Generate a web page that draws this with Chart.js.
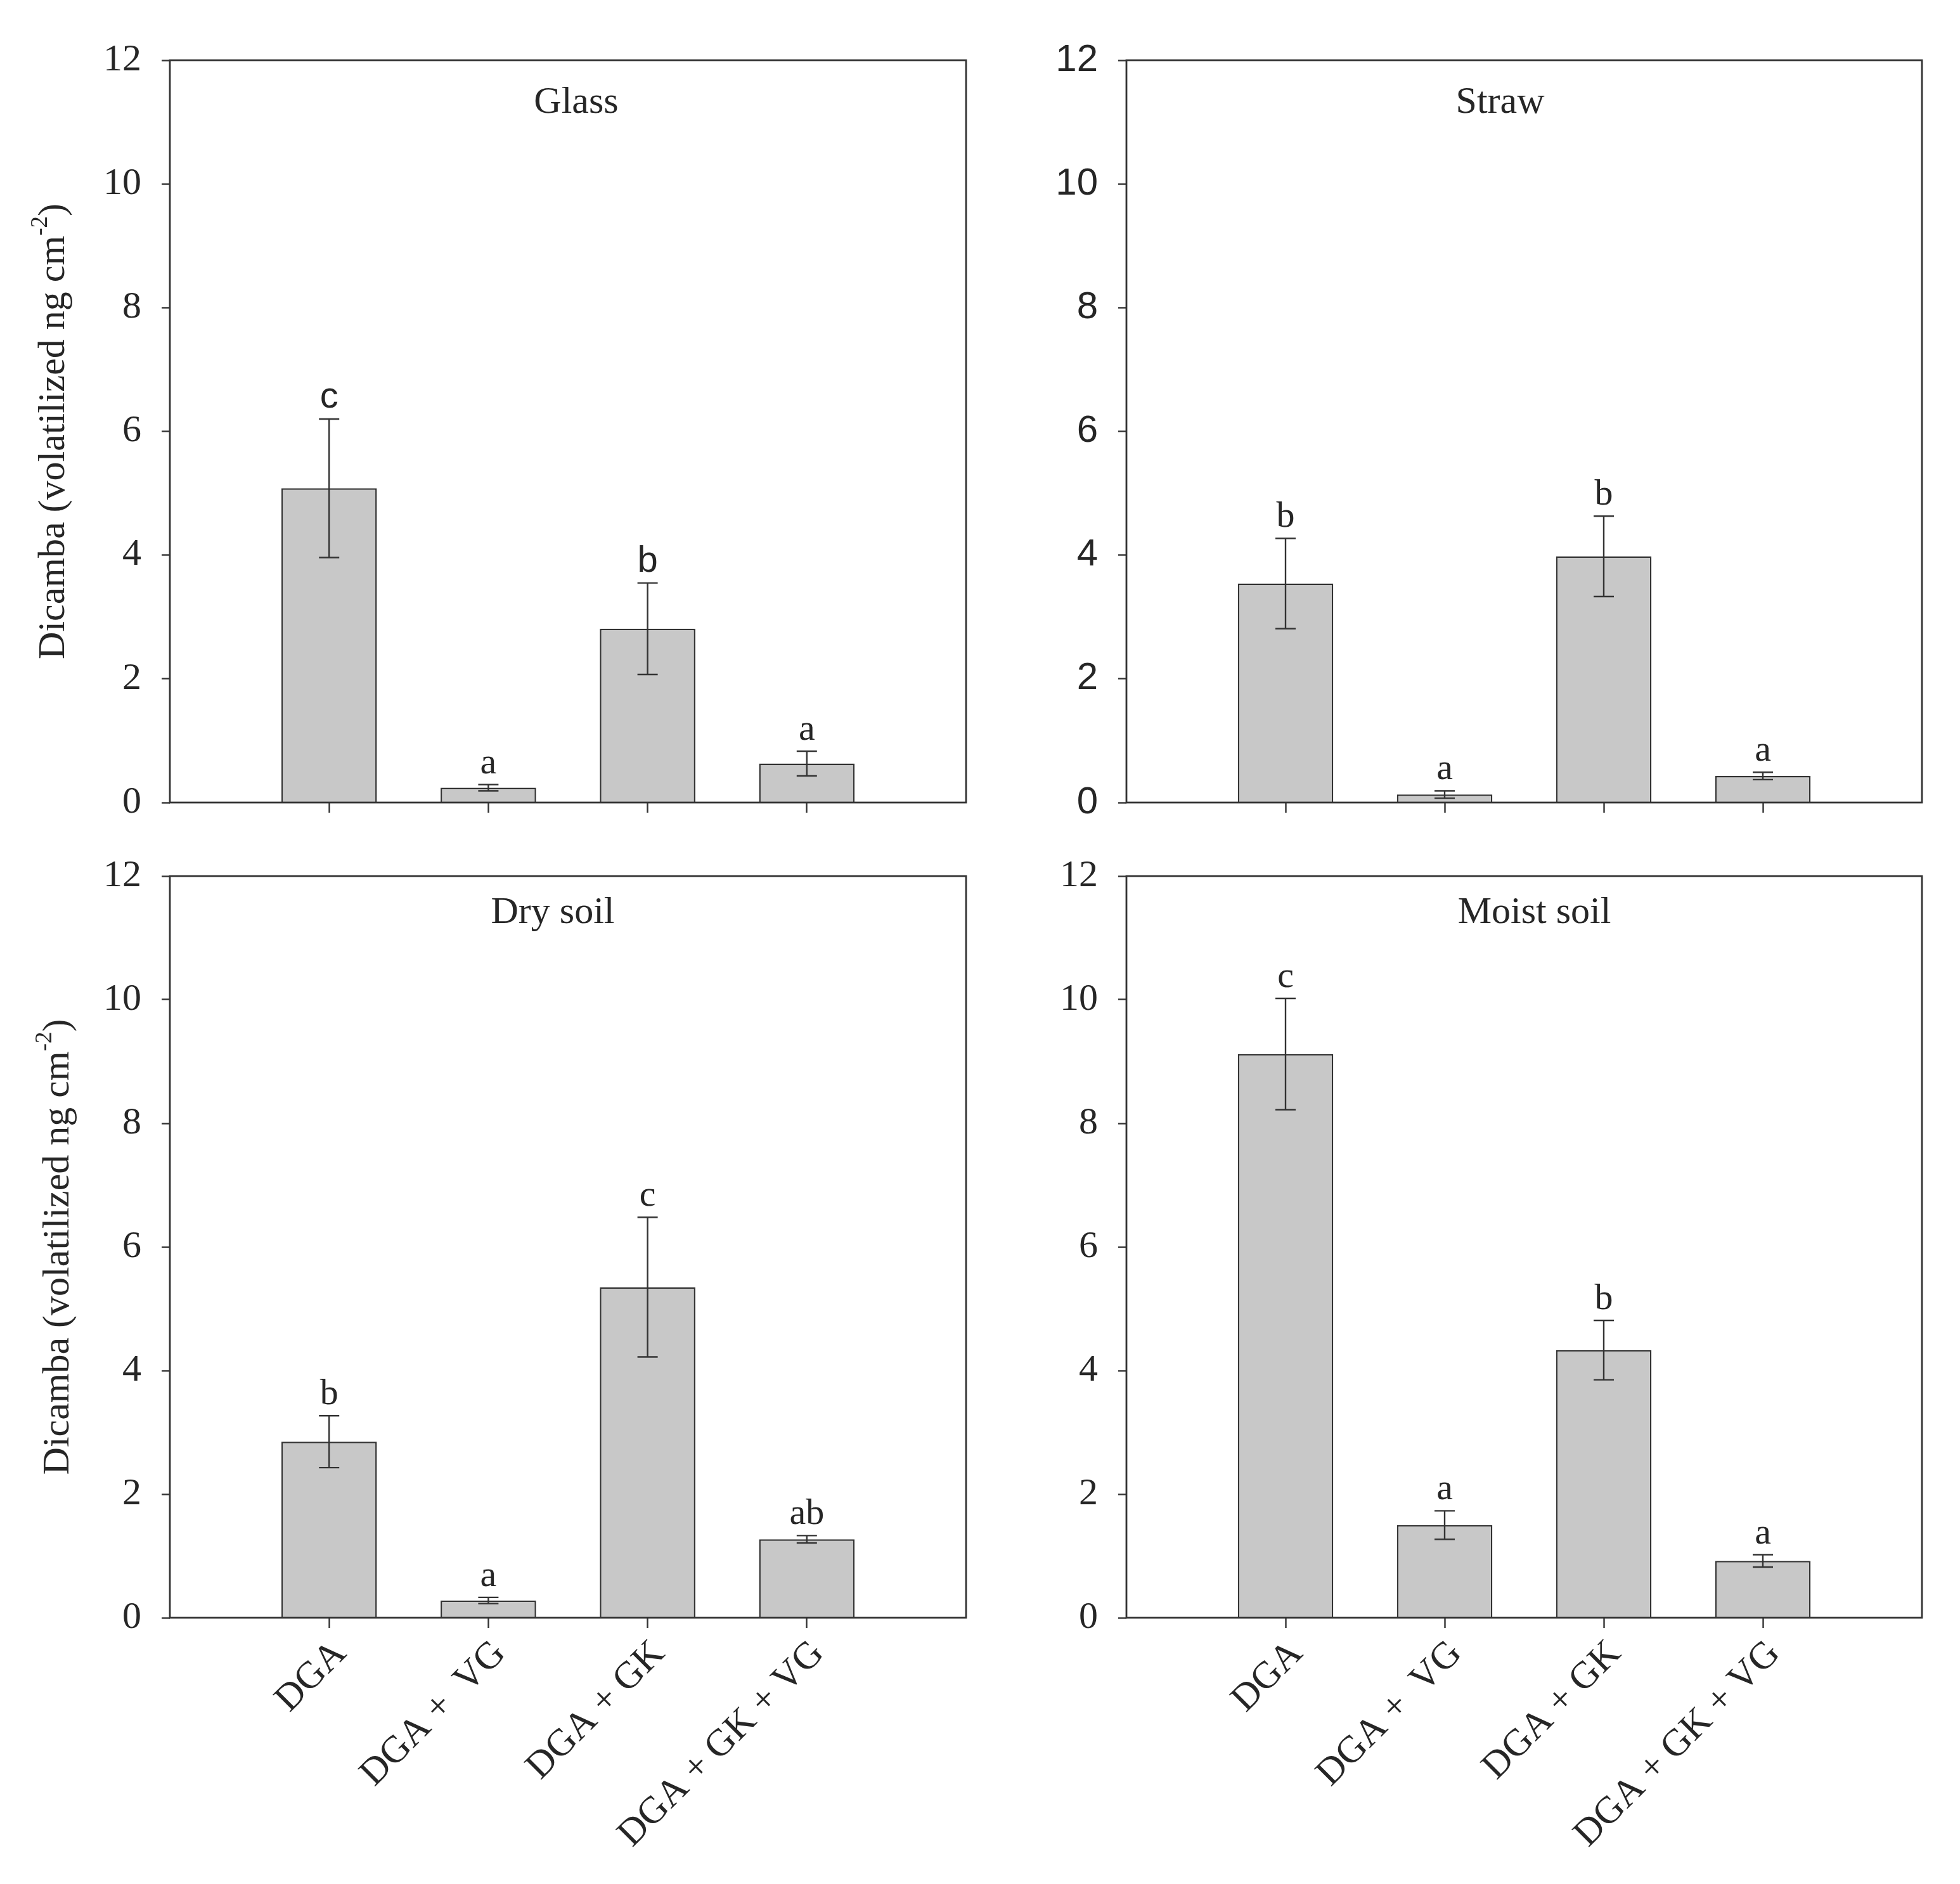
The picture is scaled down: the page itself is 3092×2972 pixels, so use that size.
<!DOCTYPE html>
<html>
<head>
<meta charset="utf-8">
<script src="https://cdn.jsdelivr.net/npm/chart.js@4.4.0/dist/chart.umd.min.js"></script>
<style>
  html, body { margin: 0; padding: 0; background: #fff; }
  body { width: 3092px; height: 2972px; position: relative; overflow: hidden; }
  .panel { position: absolute; }
</style>
</head>
<body>
<div class="panel" id="p0"><canvas id="c0"></canvas></div>
<div class="panel" id="p1"><canvas id="c1"></canvas></div>
<div class="panel" id="p2"><canvas id="c2"></canvas></div>
<div class="panel" id="p3"><canvas id="c3"></canvas></div>
<script>
// treatments and surfaces
const categories = ['DGA', 'DGA +  VG', 'DGA + GK', 'DGA + GK + VG'];
const surfaces = ['Glass', 'Straw', 'Dry soil', 'Moist soil'];
const yTicks = [0, 2, 4, 6, 8, 10, 12];

// means, standard errors, letters
const glassMeans = [5.08, 0.24, 2.81, 0.63];
const glassErrors = [1.12, 0.05, 0.74, 0.20];
const glassLetters = ['c', 'a', 'b', 'a'];

const strawMeans = [3.54, 0.13, 3.98, 0.43];
const strawErrors = [0.73, 0.06, 0.65, 0.06];
const strawLetters = ['b', 'a', 'b', 'a'];

const drySoilMeans = [2.85, 0.28, 5.35, 1.27];
const drySoilErrors = [0.42, 0.05, 1.13, 0.06];
const drySoilLetters = ['b', 'a', 'c', 'ab'];

const moistSoilMeans = [9.12, 1.50, 4.33, 0.92];
const moistSoilErrors = [0.90, 0.23, 0.48, 0.10];
const moistSoilLetters = ['c', 'a', 'b', 'a'];

const means = [glassMeans, strawMeans, drySoilMeans, moistSoilMeans];
const errors = [glassErrors, strawErrors, drySoilErrors, moistSoilErrors];
const letters = [glassLetters, strawLetters, drySoilLetters, moistSoilLetters];

const SERIF = '"Liberation Serif", "Times New Roman", serif';
const SANS = '"Liberation Sans", Arial, sans-serif';
const INK = '#262626';
const LINE = '#333333';

// panel placement on the page
const layouts = [
  { left: 0,    top: 0,    w: 1546, h: 1324, yW: 268, padTop: 95, padRight: 22, xH: 58,  showX: false, tickFont: SERIF, yTitleX: 85, titleDx: 13,  titleBase: 83,
    letterFonts: [SANS, SERIF, SANS, SERIF] },
  { left: 1546, top: 0,    w: 1546, h: 1324, yW: 231, padTop: 95, padRight: 60, xH: 58,  showX: false, tickFont: SANS,  yTitleX: null, titleDx: -38, titleBase: 83,
    letterFonts: [SERIF, SERIF, SERIF, SERIF] },
  { left: 0,    top: 1324, w: 1546, h: 1648, yW: 268, padTop: 58, padRight: 22, xH: 420, showX: true,  tickFont: SERIF, yTitleX: 92, titleDx: -24, titleBase: 74,
    letterFonts: [SERIF, SERIF, SERIF, SERIF] },
  { left: 1546, top: 1324, w: 1546, h: 1648, yW: 231, padTop: 58, padRight: 60, xH: 420, showX: true,  tickFont: SERIF, yTitleX: null, titleDx: 16, titleBase: 74,
    letterFonts: [SERIF, SERIF, SERIF, SERIF] }
];

// error bars, significance letters, frame, panel title and y title
const decorPlugin = {
  id: 'decor',
  afterDatasetsDraw(chart, args, opts) {
    const ctx = chart.ctx;
    const xs = chart.scales.x, ys = chart.scales.y;
    const lay = opts.lay;
    ctx.save();
    ctx.strokeStyle = LINE;
    ctx.lineWidth = 2.4;
    opts.means.forEach((m, i) => {
      const x = xs.getPixelForValue(i + 1);
      const yT = ys.getPixelForValue(m + opts.errors[i]);
      const yB = ys.getPixelForValue(m - opts.errors[i]);
      ctx.beginPath();
      ctx.moveTo(x, yT); ctx.lineTo(x, yB);
      ctx.moveTo(x - 16, yT); ctx.lineTo(x + 16, yT);
      ctx.moveTo(x - 16, yB); ctx.lineTo(x + 16, yB);
      ctx.stroke();
      ctx.fillStyle = INK;
      ctx.font = '58px ' + lay.letterFonts[i];
      ctx.textAlign = 'center';
      ctx.textBaseline = 'alphabetic';
      ctx.fillText(opts.letters[i], x, yT - 18);
    });
    ctx.restore();
  },
  afterDraw(chart, args, opts) {
    const ctx = chart.ctx;
    const a = chart.chartArea;
    const lay = opts.lay;
    ctx.save();
    ctx.strokeStyle = LINE;
    ctx.lineWidth = 2.8;
    ctx.strokeRect(a.left, a.top, a.right - a.left, a.bottom - a.top);
    ctx.fillStyle = INK;
    ctx.font = '60px ' + SERIF;
    ctx.textAlign = 'center';
    ctx.textBaseline = 'alphabetic';
    ctx.fillText(opts.title, (a.left + a.right) / 2 + lay.titleDx, a.top + lay.titleBase);
    if (lay.yTitleX !== null) {
      const main = 'Dicamba (volatilized ng cm';
      const sup = '-2';
      const tail = ')';
      ctx.font = '60px ' + SERIF;
      const w1 = ctx.measureText(main).width;
      const w3 = ctx.measureText(tail).width;
      ctx.font = '37px ' + SERIF;
      const w2 = ctx.measureText(sup).width;
      const total = w1 + w2 + w3;
      ctx.translate(lay.yTitleX, (a.top + a.bottom) / 2);
      ctx.rotate(-Math.PI / 2);
      ctx.textAlign = 'left';
      ctx.textBaseline = 'middle';
      let x0 = -total / 2;
      ctx.font = '60px ' + SERIF;
      ctx.fillText(main, x0, 0);
      ctx.font = '37px ' + SERIF;
      ctx.fillText(sup, x0 + w1, -21);
      ctx.font = '60px ' + SERIF;
      ctx.fillText(tail, x0 + w1 + w2, 0);
    }
    ctx.restore();
  }
};

surfaces.forEach((name, k) => {
  const lay = layouts[k];
  const box = document.getElementById('p' + k);
  box.style.left = lay.left + 'px';
  box.style.top = lay.top + 'px';
  box.style.width = lay.w + 'px';
  box.style.height = lay.h + 'px';
  const cv = document.getElementById('c' + k);
  cv.width = lay.w; cv.height = lay.h;
  cv.style.width = lay.w + 'px'; cv.style.height = lay.h + 'px';

  const labels = [''].concat(categories, ['']);
  const values = [null].concat(means[k], [null]);

  new Chart(cv, {
    type: 'bar',
    data: {
      labels: labels,
      datasets: [{
        data: values,
        backgroundColor: '#c8c8c8',
        borderColor: LINE,
        borderWidth: 2.5,
        barPercentage: 0.6,
        categoryPercentage: 1.0
      }]
    },
    options: {
      responsive: false,
      animation: false,
      events: [],
      layout: { padding: { top: lay.padTop, right: lay.padRight, left: 0, bottom: 0 } },
      plugins: {
        legend: { display: false },
        tooltip: { enabled: false },
        decor: { lay: lay, title: name, means: means[k], errors: errors[k], letters: letters[k] }
      },
      scales: {
        x: {
          type: 'category',
          offset: false,
          border: { display: false },
          grid: {
            offset: false,
            drawOnChartArea: false,
            drawTicks: true,
            tickLength: 16,
            tickWidth: 2.4,
            tickColor: (c) => (c.index === 0 || c.index === labels.length - 1) ? 'rgba(0,0,0,0)' : LINE
          },
          ticks: {
            display: lay.showX,
            autoSkip: false,
            minRotation: 45,
            maxRotation: 45,
            padding: 6,
            labelOffset: 18,
            color: INK,
            font: { family: SERIF, size: 60 }
          },
          afterFit: (s) => { s.height = lay.xH; s.paddingLeft = 0; s.paddingRight = 0; }
        },
        y: {
          min: 0,
          max: 12,
          border: { display: false },
          grid: {
            drawOnChartArea: false,
            drawTicks: true,
            tickLength: 13,
            tickWidth: 2.4,
            tickColor: LINE
          },
          ticks: {
            padding: 32,
            color: INK,
            font: { family: lay.tickFont, size: 60 }
          },
          afterBuildTicks: (s) => { s.ticks = yTicks.map(v => ({ value: v })); },
          afterFit: (s) => { s.width = lay.yW; s.paddingTop = 0; s.paddingBottom = 0; }
        }
      }
    },
    plugins: [decorPlugin]
  });
});
</script>
</body>
</html>
